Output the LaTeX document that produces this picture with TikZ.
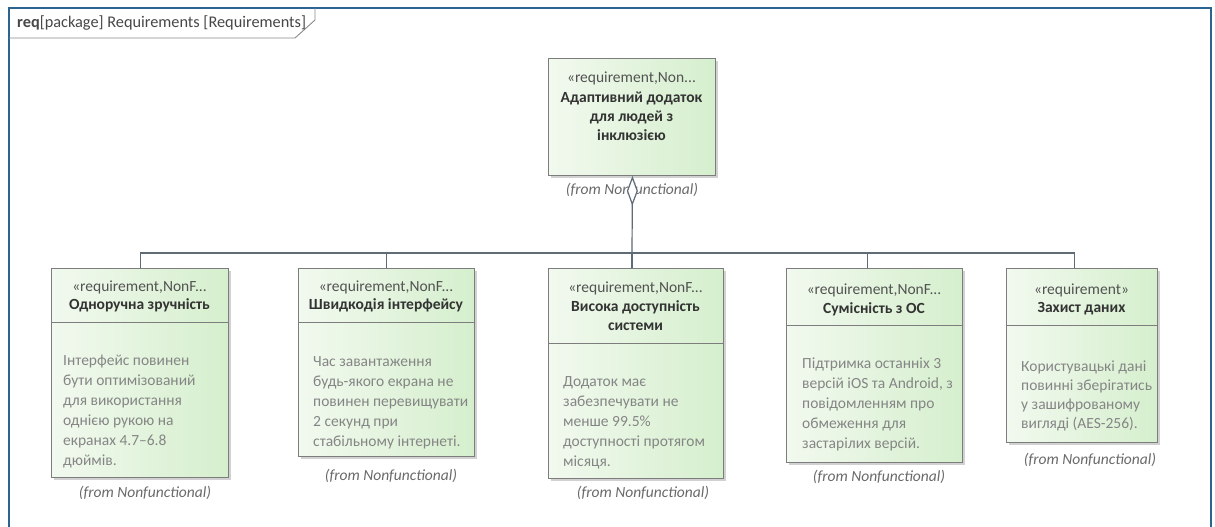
\documentclass[tikz,border=0pt]{standalone}
\usepackage{fontspec}
\setmainfont{Carlito}
\usetikzlibrary{calc,shadows,arrows.meta}

\definecolor{frameblue}{HTML}{2B6391}
\definecolor{tabgray}{HTML}{8A8A8A}
\definecolor{boxedge}{HTML}{7D7D7D}
\definecolor{greenlight}{HTML}{F2F9EF}
\definecolor{greendeep}{HTML}{D5EFCD}
\definecolor{headtext}{HTML}{333333}
\definecolor{bodytext}{HTML}{858585}
\definecolor{fromtext}{HTML}{6A6A6A}
\definecolor{linkgray}{HTML}{5F6B75}

\tikzset{
  reqbox/.style={draw=boxedge, line width=0.9pt, anchor=north west,
    left color=greenlight, right color=greendeep, inner sep=0pt,
    drop shadow={shadow xshift=2.5pt, shadow yshift=-2.5pt, fill=black, opacity=0.18}},
  stereo/.style={text=headtext!85, font=\fontsize{15.5}{19}\selectfont, inner sep=0pt},
  reqname/.style={text=headtext, font=\bfseries\fontsize{15.5}{19}\selectfont, align=center, inner sep=0pt},
  reqbody/.style={text=bodytext, font=\fontsize{15.5}{20}\selectfont, align=left, anchor=north west, inner sep=0pt},
  fromlabel/.style={text=fromtext, font=\itshape\fontsize{15.5}{19}\selectfont, inner sep=0pt},
  divider/.style={draw=boxedge, line width=0.9pt},
  conn/.style={draw=linkgray, line width=1.2pt}
}

\begin{document}
\begin{tikzpicture}[x=1pt,y=-1pt]
\useasboundingbox (0,0) rectangle (1215,527);
\fill[white] (0,0) rectangle (1215,527);

% package frame and its name tab
\draw[frameblue, line width=2.2pt] (9,527) -- (9,8) -- (1211,8) -- (1211,527);
\draw[tabgray, line width=0.9pt] (9,38) -- (295,38) -- (315,20) -- (315,8);
\node[anchor=west, inner sep=0pt, text=headtext!90, font=\fontsize{16.3}{19}\selectfont] (title) at (17,23)
  {\textbf{req}[package] Requirements [Requirements]};

% parent requirement
\node[reqbox, minimum width=167pt, minimum height=117pt] (top) at (548,58) {};
\node[stereo] (topst) at (631.5,78) {«requirement,Non...};
\node[reqname] (topnm) at (631.5,116) {Адаптивний додаток\\для людей з\\інклюзією};
\node[fromlabel] (topfrom) at (632,190) {(from Nonfunctional)};

% child requirements
\node[reqbox, minimum width=177pt, minimum height=209pt] (b1) at (51,268) {};
\node[stereo] (b1st) at (139.5,287) {«requirement,NonF...};
\node[reqname] (b1nm) at (139.5,305) {Одноручна зручність};
\draw[divider] ($(b1.north west)+(0,54)$) -- ($(b1.north east)+(0,54)$);
\node[reqbody] (b1bd) at (63,355) {Інтерфейс повинен\\бути оптимізований\\для використання\\однією рукою на\\екранах 4.7–6.8\\дюймів.};
\node[fromlabel] (b1from) at (145,493) {(from Nonfunctional)};

\node[reqbox, minimum width=176pt, minimum height=188pt] (b2) at (298,268) {};
\node[stereo] (b2st) at (386,287) {«requirement,NonF...};
\node[reqname] (b2nm) at (386,305) {Швидкодія інтерфейсу};
\draw[divider] ($(b2.north west)+(0,54)$) -- ($(b2.north east)+(0,54)$);
\node[reqbody] (b2bd) at (313,356) {Час завантаження\\будь-якого екрана не\\повинен перевищувати\\2 секунд при\\стабільному інтернеті.};
\node[fromlabel] (b2from) at (391,476) {(from Nonfunctional)};

\node[reqbox, minimum width=175pt, minimum height=210pt] (b3) at (548,268) {};
\node[stereo] (b3st) at (635.5,288) {«requirement,NonF...};
\node[reqname] (b3nm) at (635.5,316) {Висока доступність\\системи};
\draw[divider] ($(b3.north west)+(0,75)$) -- ($(b3.north east)+(0,75)$);
\node[reqbody] (b3bd) at (563,376) {Додаток має\\забезпечувати не\\менше 99.5\%\\доступності протягом\\місяця.};
\node[fromlabel] (b3from) at (643,493) {(from Nonfunctional)};

\node[reqbox, minimum width=176pt, minimum height=194pt] (b4) at (786,268) {};
\node[stereo] (b4st) at (874,290) {«requirement,NonF...};
\node[reqname] (b4nm) at (874,309) {Сумісність з ОС};
\draw[divider] ($(b4.north west)+(0,57)$) -- ($(b4.north east)+(0,57)$);
\node[reqbody] (b4bd) at (802,358) {Підтримка останніх 3\\версій iOS та Android, з\\повідомленням про\\обмеження для\\застарілих версій.};
\node[fromlabel] (b4from) at (879,477) {(from Nonfunctional)};

\node[reqbox, minimum width=151pt, minimum height=174pt] (b5) at (1006,268) {};
\node[stereo] (b5st) at (1081.5,290) {«requirement»};
\node[reqname] (b5nm) at (1081.5,309) {Захист даних};
\draw[divider] ($(b5.north west)+(0,57)$) -- ($(b5.north east)+(0,57)$);
\node[reqbody, font=\fontsize{15.5}{19}\selectfont] (b5bd) at (1021,361) {Користувацькі дані\\повинні зберігатись\\у зашифрованому\\вигляді (AES-256).};
\node[fromlabel] (b5from) at (1090,460) {(from Nonfunctional)};

% aggregation tree
\coordinate (hub) at (632,253);
\draw[conn, {Diamond[fill=white, length=30pt, width=11pt, line width=1.2pt]}-] ($(top.south)+(0.5,0)$) -- (hub);
\draw[conn] ($(b1.north)+(0.5,0)$) |- (hub);
\draw[conn] (b2.north) |- (hub);
\draw[conn] (b3.north -| hub) -- (hub);
\draw[conn] ($(b4.north)+(-7,0)$) |- (hub);
\draw[conn] ($(b5.north)+(-7.5,0)$) |- (hub);
\end{tikzpicture}
\end{document}
